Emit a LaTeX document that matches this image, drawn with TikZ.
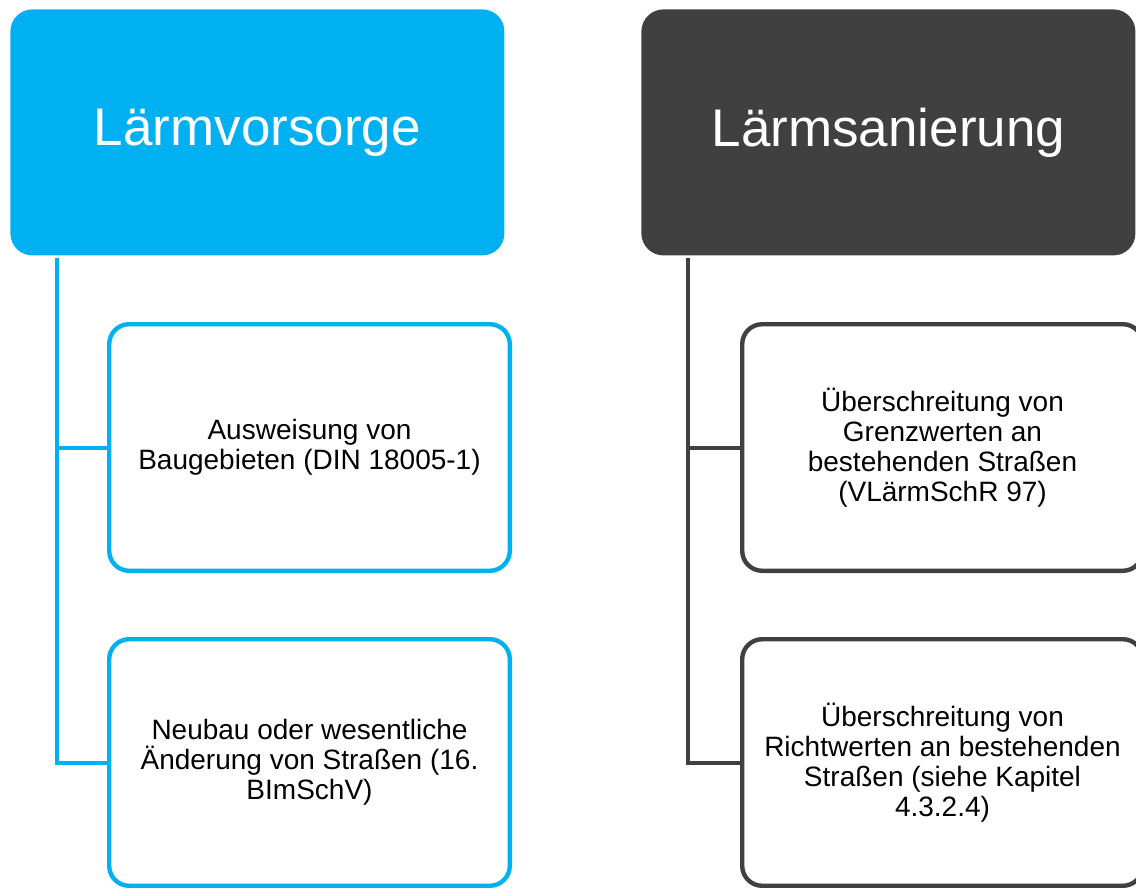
\documentclass[tikz,border=0pt]{standalone}
\usepackage{fontspec}
\setmainfont{Liberation Sans}
\usetikzlibrary{positioning}
\definecolor{vorsorgeblue}{HTML}{00B0F0}
\definecolor{sanierunggray}{HTML}{404040}

\begin{document}
\begin{tikzpicture}[
    x=0.5pt, y=-0.5pt,
    every node/.style={font=\fontsize{14}{15}\selectfont, align=center, inner sep=0pt},
    headbox/.style={rectangle, rounded corners=11pt, minimum width=247pt, minimum height=123pt, text=white, font=\fontsize{26.5}{30}\selectfont},
    itembox/.style={rectangle, draw, line width=2.2pt, rounded corners=10pt, fill=white, minimum width=200.3pt, minimum height=123.3pt},
    conn/.style={line width=2pt}
]
\useasboundingbox (0,0) rectangle (1136,888);

% Headers
\node[headbox, fill=vorsorgeblue, anchor=north west] (lv) at (10,9) {Lärmvorsorge};
\node[headbox, fill=sanierunggray, anchor=north west] (ls) at (641,9) {Lärmsanierung};

% Lärmvorsorge items
\node[itembox, draw=vorsorgeblue, anchor=north west] (lv1) at (107,322) {Ausweisung von\\Baugebieten (DIN 18005-1)};
\node[itembox, draw=vorsorgeblue, anchor=north west] (lv2) at (107,637) {Neubau oder wesentliche\\Änderung von Straßen (16.\\BImSchV)};

% Lärmsanierung items
\node[itembox, draw=sanierunggray, anchor=north west] (ls1) at (740,322) {Überschreitung von\\Grenzwerten an\\bestehenden Straßen\\(VLärmSchR 97)};
\node[itembox, draw=sanierunggray, anchor=north west] (ls2) at (740,637) {Überschreitung von\\Richtwerten an bestehenden\\Straßen (siehe Kapitel\\4.3.2.4)};

% Connectors
\draw[conn, vorsorgeblue] ([xshift=23.5pt,yshift=-1pt]lv.south west) |- (lv1.west);
\draw[conn, vorsorgeblue] ([xshift=23.5pt,yshift=-1pt]lv.south west) |- (lv2.west);
\draw[conn, sanierunggray] ([xshift=23.5pt,yshift=-1pt]ls.south west) |- (ls1.west);
\draw[conn, sanierunggray] ([xshift=23.5pt,yshift=-1pt]ls.south west) |- (ls2.west);
\end{tikzpicture}
\end{document}
